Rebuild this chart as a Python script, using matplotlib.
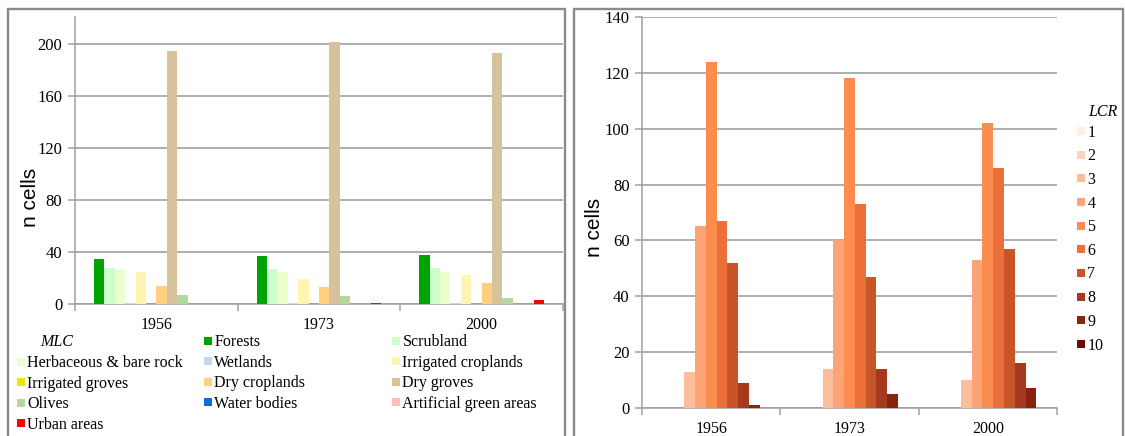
import numpy as np
import matplotlib.pyplot as plt
from matplotlib.lines import Line2D
from matplotlib.patches import Rectangle

plt.rcParams['font.family'] = ['Liberation Serif', 'DejaVu Serif']

years = ["1956", "1973", "2000"]

# map land cover (MLC) classes, counts per year
mlc_names = ["Forests", "Scrubland", "Herbaceous & bare rock", "Wetlands",
             "Irrigated croplands", "Irrigated groves", "Dry croplands",
             "Dry groves", "Olives", "Water bodies", "Artificial green areas",
             "Urban areas"]
mlc_colors = ["#00a400", "#ccffcc", "#eaffcc", "#c4d5f5", "#fff4b0", "#e8e800",
              "#ffd17f", "#d6c39b", "#b5d89e", "#0a6fd6", "#ffbcbc", "#ff0000"]
mlc_1956 = [35, 28, 26, 1, 25, 0, 14, 195, 7, 0, 0, 0]
mlc_1973 = [37, 27, 25, 1, 19, 0, 13, 202, 6, 0, 0, 1]
mlc_2000 = [38, 28, 25, 1, 22, 0, 16, 193, 5, 0, 0, 3]

# land cover richness (LCR) classes
lcr_names = ["1", "2", "3", "4", "5", "6", "7", "8", "9", "10"]
lcr_colors = ["#fdeee4", "#fdd4bb", "#fcbe9a", "#fca477", "#fd8c4f", "#eb6f3a",
              "#c8542a", "#a5391c", "#882312", "#6a0d05"]
lcr_1956 = [0, 0, 13, 65, 124, 67, 52, 9, 1, 0]
lcr_1973 = [0, 0, 14, 60, 118, 73, 47, 14, 5, 0]
lcr_2000 = [0, 0, 10, 53, 102, 86, 57, 16, 7, 0]

GRID = "#999999"
AXC = "#a0a0a0"
W, H = 1125, 436


def fx(px):
    return px / W


def fy(py):
    return 1 - py / H


def grouped_bars(ax, table, colors, nslots, width):
    x = np.arange(len(years))
    for k, col in enumerate(colors):
        vals = [row[k] for row in table]
        # slot 0 is the empty header series
        off = -nslots / 2 * width + (k + 1.5) * width
        ax.bar(x + off, vals, width, color=col, linewidth=0, zorder=3)


def style_axes(ax, ymax, yticks):
    ax.set_xlim(-0.5, 2.5)
    ax.set_ylim(0, ymax)
    ax.set_yticks(yticks)
    ax.yaxis.grid(True, color=GRID, lw=1.1)
    ax.set_axisbelow(True)
    for s in ["top", "right"]:
        ax.spines[s].set_visible(False)
    for s in ["left", "bottom"]:
        ax.spines[s].set_color(AXC)
        ax.spines[s].set_linewidth(1.1)
    ax.set_xticks([-0.5, 0.5, 1.5, 2.5])
    ax.set_xticklabels([])
    ax.set_xticks([0, 1, 2], minor=True)
    ax.set_xticklabels(years, minor=True, fontsize=11.5)
    ax.tick_params(axis="x", which="major", length=5, color=AXC, width=1.1)
    ax.tick_params(axis="x", which="minor", length=0, pad=9)
    ax.tick_params(axis="y", length=5, color=AXC, width=1.1, labelsize=12, pad=4)


fig = plt.figure(figsize=(11.25, 4.36), dpi=100)

# left chart: MLC
ax1 = fig.add_axes([fx(75), fy(304), fx(563) - fx(75), fy(17) - fy(304)])
grouped_bars(ax1, [mlc_1956, mlc_1973, mlc_2000], mlc_colors, 14, 0.064)
style_axes(ax1, 221, np.arange(0, 201, 40))
fig.text(fx(30), fy(197), "n cells", rotation=90, ha="center", va="center",
         fontsize=15, family="Liberation Sans")

# right chart: LCR
ax2 = fig.add_axes([fx(642), fy(408), fx(1057) - fx(642), fy(17) - fy(408)])
grouped_bars(ax2, [lcr_1956, lcr_1973, lcr_2000], lcr_colors, 11, 0.078)
style_axes(ax2, 140, np.arange(0, 141, 20))
fig.text(fx(594), fy(227), "n cells", rotation=90, ha="center", va="center",
         fontsize=15, family="Liberation Sans")


def handle(c):
    return Line2D([], [], ls="none", marker="s", markersize=5.2,
                  markerfacecolor=c, markeredgewidth=0)


def column_legend(idx, names, colors, x, y, fs, spacing):
    hs = [handle(colors[i]) for i in idx]
    labs = [names[i] for i in idx]
    fig.legend(hs, labs, loc="center left", bbox_to_anchor=(fx(x), fy(y)),
               frameon=False, fontsize=fs, borderpad=0, borderaxespad=0,
               handlelength=0.45, handletextpad=0.2, labelspacing=spacing)


# MLC legend laid out in three columns, row order as in the key
fig.text(fx(40), fy(342), "MLC", style="italic", fontsize=11.5, va="center")
column_legend([2, 5, 8, 11], mlc_names, mlc_colors, 17, 394, 11.5, 0.285)
column_legend([0, 3, 6, 9], mlc_names, mlc_colors, 204, 373, 11.5, 0.285)
column_legend([1, 4, 7, 10], mlc_names, mlc_colors, 392, 373, 11.5, 0.285)

# LCR legend
fig.text(fx(1088), fy(112), "LCR", style="italic", fontsize=11.5, va="center")
column_legend(list(range(10)), lcr_names, lcr_colors, 1077, 239, 11.5, 0.48)

# panel frames
for x0, x1 in [(8, 564.5), (574, 1122.5)]:
    fig.patches.append(Rectangle((fx(x0), -0.05), fx(x1) - fx(x0), fy(9.5) + 0.05,
                                 transform=fig.transFigure, fill=False,
                                 edgecolor="#8a8a8a", linewidth=1.7))

fig.savefig("out.png", dpi=100, facecolor="white")
